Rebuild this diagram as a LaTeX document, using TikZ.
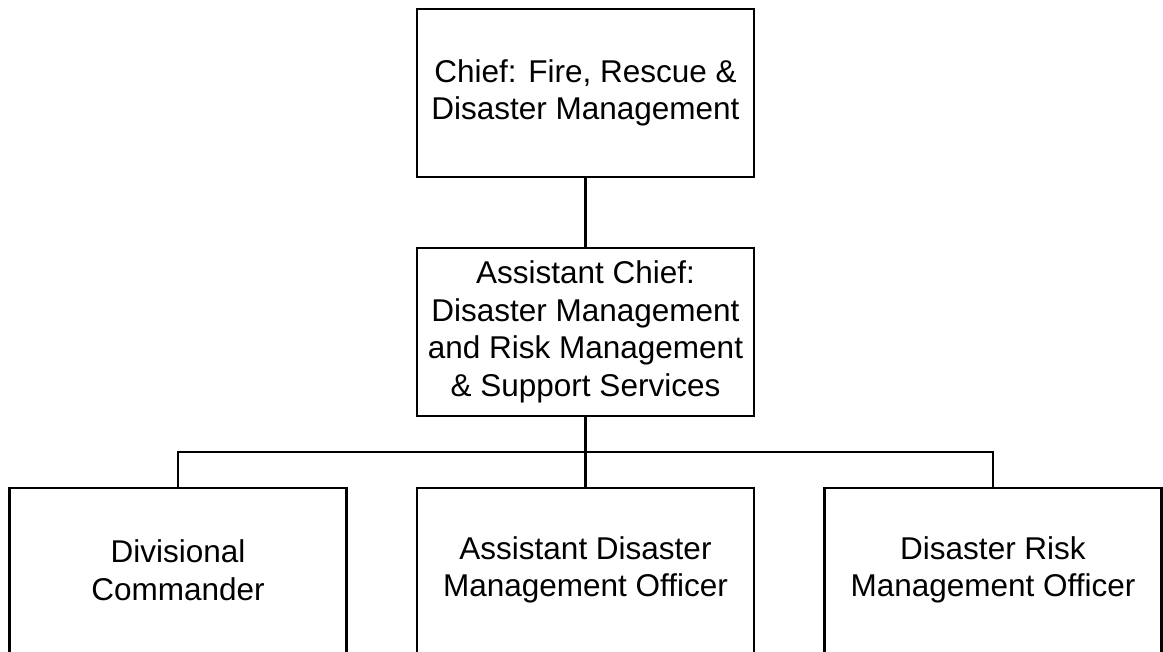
\documentclass[tikz,border=0pt]{standalone}
\usepackage{fontspec}
\setmainfont{Liberation Sans}
\begin{document}
\begin{tikzpicture}[x=1pt,y=-1pt,
  orgbox/.style={draw=black, line width=2.8pt, fill=white, minimum width=337pt, minimum height=168pt,
    inner sep=0pt, align=center, font=\fontsize{31.5}{37.5}\selectfont},
  label/.style={align=center, inner sep=0pt, font=\fontsize{31.5}{37.5}\selectfont},
  link/.style={draw=black, line width=2.8pt}]
\useasboundingbox (0,0) rectangle (1163,652);
\clip (0,0) rectangle (1163,652);
\fill[white] (0,0) rectangle (1163,652);
\node[orgbox] (top) at (585.5,93) {Chief: Fire, Rescue \&\\Disaster Management};
\node[orgbox] (mid) at (585.5,332) {Assistant Chief:\\Disaster Management\\and Risk Management\\\& Support Services};
\node[orgbox] (b1) at (178,572) {};
\node[orgbox] (b2) at (585.5,572) {};
\node[orgbox] (b3) at (993,572) {};
\node[label] (t1) at (178,570) {Divisional\\Commander};
\node[label] (t2) at (585.5,570) {Assistant Disaster\\Management Officer};
\node[label] (t3) at (993,570) {Disaster Risk\\Management Officer};
\coordinate (j) at (585.5,452);
\draw[link] (top) -- (mid);
\draw[link] (mid) -- (j) -- (b2);
\draw[link] (b1.north) |- (j) -| (b3.north);
\end{tikzpicture}
\end{document}
